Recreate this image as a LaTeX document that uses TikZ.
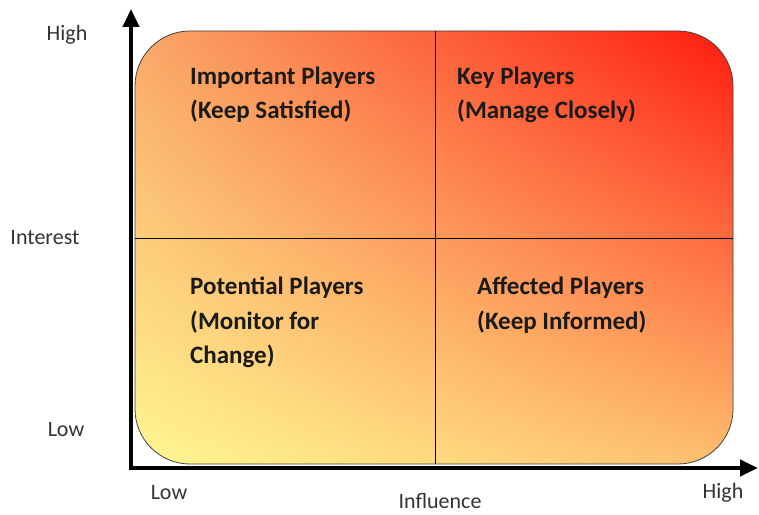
\documentclass[tikz,border=0pt]{standalone}
\usepackage{fontspec}
\setmainfont{Carlito}
\usetikzlibrary{arrows.meta,shadings}
\definecolor{cyellow}{HTML}{FFF792}
\definecolor{cred}{HTML}{FF1A0E}
\definecolor{corangeA}{HTML}{F9A867}
\definecolor{corangeB}{HTML}{FDBE70}
\definecolor{txtdark}{HTML}{1A1A1A}
\definecolor{axlabel}{HTML}{333333}
\begin{document}
\begin{tikzpicture}[x=1pt,y=1pt,
  quad/.style={anchor=base west, inner sep=0pt, align=left, font=\fontsize{25}{34}\selectfont\bfseries, text=txtdark},
  axlab/.style={inner sep=0pt, font=\fontsize{22}{26}\selectfont, text=axlabel},
  axisline/.style={line width=4pt, -{Triangle[length=18pt,width=16pt]}},
  divider/.style={line width=0.8pt, draw=black}]
\useasboundingbox (0,0) rectangle (759,514);
\shade[rounded corners=55pt, lower left=cyellow, upper right=cred, upper left=corangeA, lower right=corangeB] (135,50) rectangle (733,483);
\draw[line width=0.8pt, draw=black!75, rounded corners=55pt] (135,50) rectangle (733,483);
\coordinate (vt) at (435,483);
\coordinate (vb) at (435,50);
\coordinate (hl) at (135,276);
\coordinate (hr) at (733,276);
\draw[divider] (vt) -- (vb);
\draw[divider] (hl) -- (hr);
\coordinate (origin) at (131,44);
\coordinate (ytip) at (131,505);
\coordinate (xstart) at (129,46);
\coordinate (xtip) at (758,46);
\draw[axisline] (origin) -- (ytip);
\draw[axisline] (xstart) -- (xtip);
% base anchor = baseline of the last line
\node[quad] (ip) at (190,395) {Important Players\\(Keep Satisfied)};
\node[quad] (kp) at (457,395) {Key Players\\(Manage Closely)};
\node[quad] (pp) at (190,151) {Potential Players\\(Monitor for\\Change)};
\node[quad] (ap) at (477,185) {Affected Players\\(Keep Informed)};
\node[axlab] (yhigh) at (67,479) {High};
\node[axlab] (ylow) at (66,84) {Low};
\node[axlab] (yint) at (45,276) {Interest};
\node[axlab] (xlow) at (169,21) {Low};
\node[axlab] (xinf) at (440,13) {Influence};
\node[axlab] (xhigh) at (723,21) {High};
\end{tikzpicture}
\end{document}
